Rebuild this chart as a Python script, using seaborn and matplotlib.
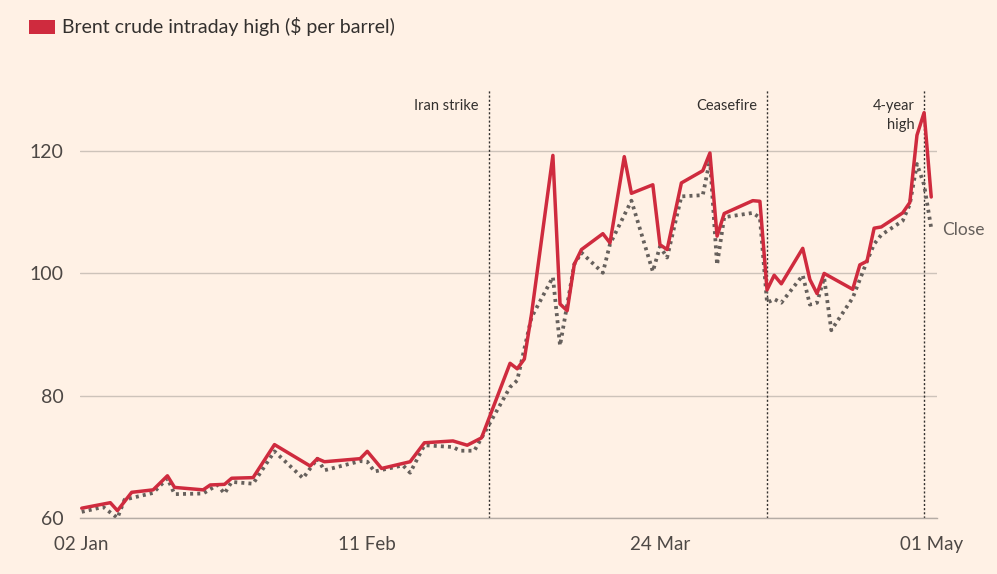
import pandas as pd
import seaborn as sns
import matplotlib.pyplot as plt
import matplotlib.dates as mdates
from matplotlib.patches import Rectangle

# --- data (2026, $ per barrel) ---
high_dates = ['2026-01-02', '2026-01-06', '2026-01-07', '2026-01-09', '2026-01-12',
              '2026-01-14', '2026-01-15', '2026-01-19', '2026-01-20', '2026-01-22',
              '2026-01-23', '2026-01-26', '2026-01-29', '2026-02-03', '2026-02-04',
              '2026-02-05', '2026-02-10', '2026-02-11', '2026-02-13', '2026-02-17',
              '2026-02-19', '2026-02-23', '2026-02-25', '2026-02-27', '2026-03-03',
              '2026-03-04', '2026-03-05', '2026-03-06', '2026-03-09', '2026-03-10',
              '2026-03-11', '2026-03-12', '2026-03-13', '2026-03-16', '2026-03-17',
              '2026-03-19', '2026-03-20', '2026-03-23', '2026-03-24', '2026-03-25',
              '2026-03-27', '2026-03-30', '2026-03-31', '2026-04-01', '2026-04-02',
              '2026-04-06', '2026-04-07', '2026-04-08', '2026-04-09', '2026-04-10',
              '2026-04-13', '2026-04-14', '2026-04-15', '2026-04-16', '2026-04-20',
              '2026-04-21', '2026-04-22', '2026-04-23', '2026-04-24', '2026-04-27',
              '2026-04-28', '2026-04-29', '2026-04-30', '2026-05-01']
high_vals = [61.6, 62.5, 61.2, 64.2, 64.6,
             66.9, 65.0, 64.6, 65.4, 65.5,
             66.5, 66.6, 72.0, 68.5, 69.7,
             69.2, 69.7, 70.9, 68.1, 69.2,
             72.3, 72.6, 71.9, 73.1, 85.3,
             84.4, 86.0, 93.3, 119.3, 95.0,
             93.9, 101.5, 103.9, 106.5, 105.0,
             119.1, 113.1, 114.5, 104.7, 103.9,
             114.8, 116.8, 119.7, 106.1, 109.8,
             111.9, 111.8, 97.3, 99.7, 98.3,
             104.1, 99.0, 96.7, 100.0, 97.4,
             101.4, 102.0, 107.4, 107.6, 109.9,
             111.6, 122.6, 126.3, 112.5]

close_dates = ['2026-01-02', '2026-01-05', '2026-01-07', '2026-01-08', '2026-01-12',
               '2026-01-14', '2026-01-15', '2026-01-19', '2026-01-21', '2026-01-22',
               '2026-01-23', '2026-01-26', '2026-01-29', '2026-02-02', '2026-02-04',
               '2026-02-05', '2026-02-10', '2026-02-11', '2026-02-12', '2026-02-16',
               '2026-02-17', '2026-02-19', '2026-02-23', '2026-02-24', '2026-02-26',
               '2026-03-03', '2026-03-04', '2026-03-06', '2026-03-09', '2026-03-10',
               '2026-03-12', '2026-03-13', '2026-03-16', '2026-03-17', '2026-03-20',
               '2026-03-23', '2026-03-24', '2026-03-25', '2026-03-27', '2026-03-30',
               '2026-03-31', '2026-04-01', '2026-04-02', '2026-04-06', '2026-04-07',
               '2026-04-08', '2026-04-09', '2026-04-10', '2026-04-13', '2026-04-14',
               '2026-04-15', '2026-04-16', '2026-04-17', '2026-04-20', '2026-04-22',
               '2026-04-23', '2026-04-24', '2026-04-27', '2026-04-28', '2026-04-29',
               '2026-04-30', '2026-05-01']
close_vals = [61.0, 61.8, 60.0, 63.0, 64.1,
              66.5, 63.9, 64.0, 65.4, 64.0,
              65.9, 65.6, 70.9, 66.5, 69.7,
              67.8, 69.3, 69.2, 67.6, 68.6,
              67.4, 71.9, 71.6, 71.0, 71.0,
              81.4, 82.5, 92.8, 99.4, 88.2,
              101.5, 103.4, 100.1, 104.8, 111.9,
              100.3, 104.4, 102.6, 112.6, 112.8,
              118.6, 101.4, 109.2, 109.9, 109.1,
              95.2, 95.8, 95.2, 99.7, 94.9,
              95.2, 99.3, 90.7, 96.0, 102.0,
              104.8, 106.3, 108.6, 111.3, 117.9,
              114.5, 107.4]

events = ['Iran strike', 'Ceasefire', '4-year\nhigh']
event_dates = ['2026-02-28', '2026-04-08', '2026-04-30']

xtick_dates = ['2026-01-02', '2026-02-11', '2026-03-24', '2026-05-01']
yticks = [60, 80, 100, 120]

high = pd.DataFrame({'date': pd.to_datetime(high_dates), 'price': high_vals})
close = pd.DataFrame({'date': pd.to_datetime(close_dates), 'price': close_vals})

# --- colours ---
bg = '#fff1e5'
red = '#cf2b3e'
grey = '#66605c'
dark = '#33302e'
gridc = '#cdc3ba'

sns.set_theme(style='white', rc={'figure.facecolor': bg, 'axes.facecolor': bg})
plt.rcParams['font.family'] = ['Lato', 'DejaVu Sans']

fig = plt.figure(figsize=(9.97, 5.74), dpi=100)
ax = fig.add_axes([0.0802, 0.0976, 0.8598, 0.7456])

# close first so the red line sits on top
sns.lineplot(data=close, x='date', y='price', ax=ax, color=grey, lw=2.7,
             linestyle=(0, (0.8, 1.1)))
sns.lineplot(data=high, x='date', y='price', ax=ax, color=red, lw=2.5)

ax.set_ylim(60, 130)
ax.set_xlim(pd.Timestamp('2026-01-01 18:00'), pd.Timestamp('2026-05-01 20:00'))

ax.set_yticks(yticks)
ax.set_yticklabels([str(v) for v in yticks])
ax.set_xticks(pd.to_datetime(xtick_dates))
ax.xaxis.set_major_formatter(mdates.DateFormatter('%d %b'))
ax.set_xlabel('')
ax.set_ylabel('')

ax.grid(axis='y', color=gridc, lw=1)
ax.grid(axis='x', visible=False)
ax.set_axisbelow(True)
for s in ['top', 'right', 'left']:
    ax.spines[s].set_visible(False)
ax.spines['bottom'].set_color('#b5aca5')
ax.spines['bottom'].set_linewidth(1)

ax.tick_params(axis='y', length=0, pad=12, labelsize=14, labelcolor='#4d4845')
ax.tick_params(axis='x', length=8, width=1, color='#b5aca5', pad=5,
               labelsize=13.5, labelcolor='#4d4845')

# event markers
for name, d in zip(events, event_dates):
    d = pd.Timestamp(d)
    ax.axvline(d, color=dark, lw=1, linestyle=(0, (1.5, 1.5)), zorder=1)
    ax.annotate(name, xy=(d, 128.6), xytext=(-7, 0), textcoords='offset points',
                ha='right', va='top', fontsize=10.5, color=dark,
                multialignment='right', linespacing=1.5)

ax.annotate('Close', xy=(pd.Timestamp('2026-05-01'), 107.1), xytext=(8, 0),
            textcoords='offset points', ha='left', va='center',
            fontsize=12.5, color=grey, annotation_clip=False)

# legend key drawn by hand, top left
fig.add_artist(Rectangle((29 / 997, 1 - 34 / 574), 26 / 997, 14 / 574,
                         transform=fig.transFigure, color=red, lw=0))
fig.text(62 / 997, 1 - 27 / 574, 'Brent crude intraday high ($ per barrel)',
         ha='left', va='center', fontsize=14, color=dark)

plt.savefig('out.png', dpi=100, facecolor=bg)
